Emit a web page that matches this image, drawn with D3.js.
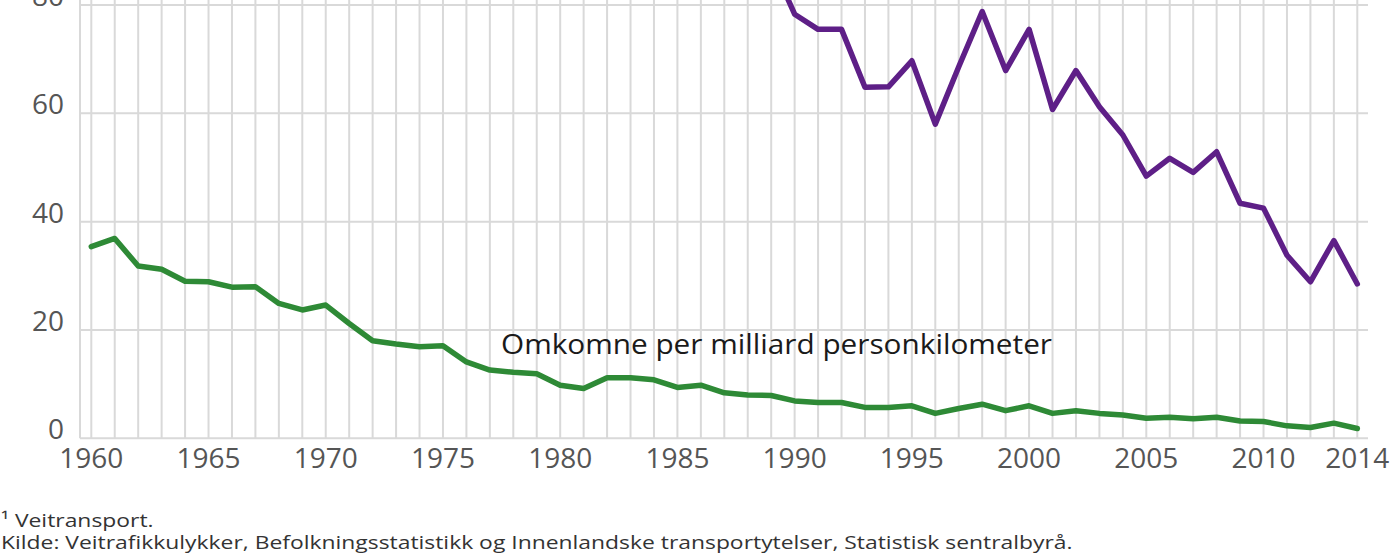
<!DOCTYPE html>
<html>
<head>
<meta charset="utf-8">
<script src="https://cdn.jsdelivr.net/npm/d3@7"></script>
<style>
  html, body { margin: 0; padding: 0; background: #fff; }
  svg { display: block; font-family: "Open Sans", "Noto Sans", sans-serif; }
</style>
</head>
<body>
<svg id="chart" width="1400" height="560"></svg>
<script>
// ---- data ----
const years = d3.range(1960, 2015);
const perBillionKm = [
  35.4, 36.9, 31.8, 31.2, 29.0, 28.9, 27.9, 28.0, 24.9, 23.7,
  24.6, 21.2, 18.0, 17.4, 16.9, 17.1, 14.1, 12.6, 12.2, 11.9,
  9.8, 9.2, 11.2, 11.2, 10.8, 9.4, 9.8, 8.4, 8.0, 7.9,
  6.9, 6.6, 6.6, 5.7, 5.7, 6.0, 4.6, 5.5, 6.3, 5.1,
  6.0, 4.6, 5.1, 4.6, 4.3, 3.7, 3.9, 3.6, 3.9, 3.2,
  3.1, 2.3, 2.0, 2.8, 1.8
];
const perMillionYears = d3.range(1989, 2015);
const perMillion = [
  88.0,
  78.3, 75.5, 75.5, 64.8, 64.9, 69.7, 58.0, 68.6, 78.8, 67.9,
  75.5, 60.7, 67.9, 61.2, 56.0, 48.4, 51.7, 49.1, 52.9, 43.4,
  42.5, 33.8, 28.9, 36.5, 28.5
];
const yTicks = [0, 20, 40, 60, 80];
const xTickYears = [1960, 1965, 1970, 1975, 1980, 1985, 1990, 1995, 2000, 2005, 2010, 2014];
const annotation = "Omkomne per milliard personkilometer";
const footnotes = [
  "\u00B9 Veitransport.",
  "Kilde: Veitrafikkulykker, Befolkningsstatistikk og Innenlandske transportytelser, Statistisk sentralbyr\u00E5."
];

// ---- layout ----
const svg = d3.select("#chart");
const plotLeft = 80, plotRight = 1368;
const x = d3.scaleLinear().domain([1960, 2014]).range([91.3, 1357.3]);
const y = d3.scaleLinear().domain([0, 80]).range([438.3, 5]);
const gridColor = "#d9d9d9";

// vertical gridlines (each year) + left edge
const grid = svg.append("g");
grid.selectAll("line.v").data(years).enter().append("line")
  .attr("x1", d => x(d)).attr("x2", d => x(d))
  .attr("y1", y(80) - 10).attr("y2", y(0))
  .attr("stroke", gridColor).attr("stroke-width", 2);
grid.append("line")
  .attr("x1", plotLeft).attr("x2", plotLeft)
  .attr("y1", y(80) - 10).attr("y2", y(0))
  .attr("stroke", gridColor).attr("stroke-width", 2);
// horizontal gridlines
grid.selectAll("line.h").data(yTicks).enter().append("line")
  .attr("x1", plotLeft).attr("x2", plotRight)
  .attr("y1", d => y(d)).attr("y2", d => y(d))
  .attr("stroke", gridColor).attr("stroke-width", 2);

// y axis labels
svg.append("g").selectAll("text").data(yTicks).enter().append("text")
  .attr("x", 64).attr("y", d => y(d) + 1)
  .attr("text-anchor", "end")
  .attr("font-size", 28).attr("fill", "#555")
  .text(d => d);

// x axis labels
svg.append("g").selectAll("text").data(xTickYears).enter().append("text")
  .attr("x", d => x(d)).attr("y", 468)
  .attr("text-anchor", "middle")
  .attr("font-size", 28).attr("fill", "#555")
  .text(d => d);

// lines
const line = d3.line().x(d => x(d[0])).y(d => y(d[1]));
svg.append("path")
  .datum(years.map((yr, i) => [yr, perBillionKm[i]]))
  .attr("d", line).attr("fill", "none")
  .attr("stroke", "#2e8a36").attr("stroke-width", 5.5)
  .attr("stroke-linejoin", "round").attr("stroke-linecap", "round");
svg.append("path")
  .datum(perMillionYears.map((yr, i) => [yr, perMillion[i]]))
  .attr("d", line).attr("fill", "none")
  .attr("stroke", "#5e1f87").attr("stroke-width", 5.5)
  .attr("stroke-linejoin", "round").attr("stroke-linecap", "round");

// annotation
svg.append("text")
  .attr("x", 501).attr("y", 354)
  .attr("font-size", 28).attr("fill", "#1a1a1a")
  .attr("textLength", 551).attr("lengthAdjust", "spacingAndGlyphs")
  .text(annotation);

// footnotes (horizontally widened like the reference)
svg.append("g").attr("transform", "translate(1,0) scale(1.205,1)")
  .selectAll("text").data(footnotes).enter().append("text")
  .attr("x", 0).attr("y", (d, i) => 527 + i * 22)
  .attr("font-size", 19).attr("fill", "#333")
  .text(d => d);
</script>
</body>
</html>
